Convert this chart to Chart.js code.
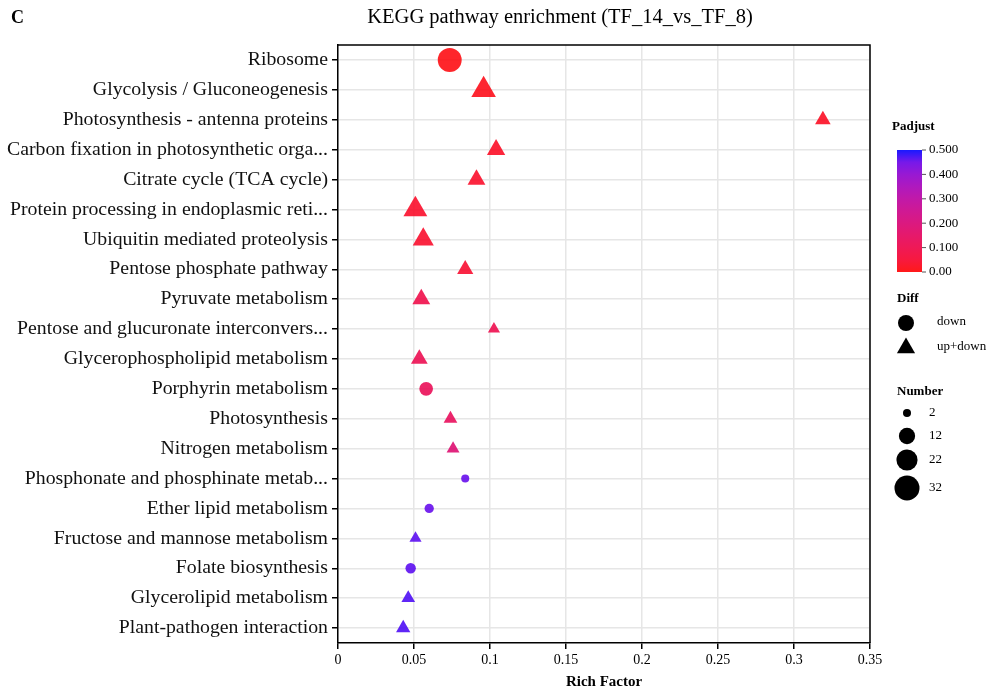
<!DOCTYPE html>
<html><head><meta charset="utf-8">
<script src="https://cdn.jsdelivr.net/npm/chart.js@4.4.0/dist/chart.umd.min.js"></script>
<style>html,body{margin:0;padding:0;background:#fff}canvas{display:block}</style>
</head><body>
<canvas id="c" width="997" height="693"></canvas>
<script>
const pathways = [
  'Ribosome',
  'Glycolysis / Gluconeogenesis',
  'Photosynthesis - antenna proteins',
  'Carbon fixation in photosynthetic orga...',
  'Citrate cycle (TCA cycle)',
  'Protein processing in endoplasmic reti...',
  'Ubiquitin mediated proteolysis',
  'Pentose phosphate pathway',
  'Pyruvate metabolism',
  'Pentose and glucuronate interconvers...',
  'Glycerophospholipid metabolism',
  'Porphyrin metabolism',
  'Photosynthesis',
  'Nitrogen metabolism',
  'Phosphonate and phosphinate metab...',
  'Ether lipid metabolism',
  'Fructose and mannose metabolism',
  'Folate biosynthesis',
  'Glycerolipid metabolism',
  'Plant-pathogen interaction'
];
const richFactor = [0.0735, 0.0958, 0.319, 0.104, 0.0911, 0.0509, 0.0561, 0.0837, 0.0548, 0.1026,
                    0.0535, 0.058, 0.074, 0.0757, 0.0837, 0.060, 0.051, 0.0478, 0.0462, 0.0429];
const geneNumber = [29, 31, 11, 16, 15, 29, 22, 12, 15, 6,
                    13, 8, 8, 7, 2, 3, 6, 4, 8, 9];
const padjust = [0.005, 0.01, 0.02, 0.025, 0.03, 0.03, 0.035, 0.04, 0.09, 0.1,
                 0.11, 0.12, 0.13, 0.18, 0.46, 0.46, 0.47, 0.47, 0.48, 0.48];
const diff = ['down', 'up+down', 'up+down', 'up+down', 'up+down', 'up+down', 'up+down', 'up+down', 'up+down', 'up+down',
              'up+down', 'down', 'up+down', 'up+down', 'down', 'down', 'up+down', 'down', 'up+down', 'up+down'];
const xTicks = [0, 0.05, 0.1, 0.15, 0.2, 0.25, 0.3, 0.35];
const padjustTicks = [0.5, 0.4, 0.3, 0.2, 0.1, 0.0];
const padjustTickLabels = ['0.500', '0.400', '0.300', '0.200', '0.100', '0.00'];
const diffLegend = ['down', 'up+down'];
const numberLegend = [2, 12, 22, 32];

const PMAX = 0.5;
const SERIF = "'Liberation Serif', 'Times New Roman', serif";

// Lab interpolation red -> blue (like ggplot gradient)
function s2l(c){c/=255;return c<=0.04045?c/12.92:Math.pow((c+0.055)/1.055,2.4);}
function l2s(c){const v=c<=0.0031308?12.92*c:1.055*Math.pow(c,1/2.4)-0.055;return Math.max(0,Math.min(255,Math.round(v*255)));}
function toLab(rgb){const r=s2l(rgb[0]),g=s2l(rgb[1]),b=s2l(rgb[2]);
  let X=(0.4124*r+0.3576*g+0.1805*b)/0.95047,Y=(0.2126*r+0.7152*g+0.0722*b),Z=(0.0193*r+0.1192*g+0.9505*b)/1.08883;
  const f=t=>t>0.008856?Math.cbrt(t):7.787*t+16/116;
  const fx=f(X),fy=f(Y),fz=f(Z);return [116*fy-16,500*(fx-fy),200*(fy-fz)];}
function fromLab(l){const fy=(l[0]+16)/116,fx=fy+l[1]/500,fz=fy-l[2]/200;
  const fi=t=>t*t*t>0.008856?t*t*t:(t-16/116)/7.787;
  const X=fi(fx)*0.95047,Y=fi(fy),Z=fi(fz)*1.08883;
  const r=3.2406*X-1.5372*Y-0.4986*Z,g=-0.9689*X+1.8758*Y+0.0415*Z,b=0.0557*X-0.2040*Y+1.0570*Z;
  return [l2s(r),l2s(g),l2s(b)];}
const LAB_LO=toLab([255,0,0]), LAB_HI=toLab([0,0,255]);
function padjColor(p, a){const t=Math.max(0,Math.min(1,p/PMAX));
  const c=fromLab([0,1,2].map(i=>LAB_LO[i]+(LAB_HI[i]-LAB_LO[i])*t));
  return `rgba(${c[0]},${c[1]},${c[2]},${a})`;}
function sizeRadius(n){return 2*Math.sqrt(n)+1.2;}

const extras = {
  id: 'extras',
  afterDraw(chart){
    const ctx = chart.ctx, ca = chart.chartArea;
    ctx.save();
    // top/right frame
    ctx.strokeStyle = '#000'; ctx.lineWidth = 1.5;
    ctx.beginPath();
    ctx.moveTo(ca.left, ca.top); ctx.lineTo(ca.right, ca.top); ctx.lineTo(ca.right, ca.bottom);
    ctx.stroke();
    // panel letter & title
    ctx.fillStyle = '#000';
    ctx.textBaseline = 'middle';
    ctx.textAlign = 'left';
    ctx.font = `bold 18px ${SERIF}`;
    ctx.fillText('C', 11, 18);
    ctx.textAlign = 'center';
    ctx.font = `20.5px ${SERIF}`;
    ctx.fillText('KEGG pathway enrichment (TF_14_vs_TF_8)', 560, 18);
    // x axis title
    ctx.font = `bold 15px ${SERIF}`;
    ctx.fillText('Rich Factor', (ca.left + ca.right) / 2, 682);

    // Padjust colour bar
    const bx = 897, bw = 25, by0 = 150, by1 = 272;
    ctx.textAlign = 'left';
    ctx.font = `bold 13px ${SERIF}`;
    ctx.fillText('Padjust', 892, 127);
    const grad = ctx.createLinearGradient(0, by1, 0, by0);
    for (let i = 0; i <= 10; i++) grad.addColorStop(i / 10, padjColor(PMAX * i / 10, 0.9));
    ctx.fillStyle = grad;
    ctx.fillRect(bx, by0, bw, by1 - by0);
    ctx.fillStyle = '#000'; ctx.strokeStyle = '#555'; ctx.lineWidth = 1;
    ctx.font = `13px ${SERIF}`;
    padjustTicks.forEach((v, i) => {
      const y = by1 - (v / PMAX) * (by1 - by0);
      ctx.beginPath(); ctx.moveTo(bx + bw, y); ctx.lineTo(bx + bw + 4, y); ctx.stroke();
      ctx.fillText(padjustTickLabels[i], bx + bw + 7, y);
    });

    // Diff legend
    ctx.font = `bold 13px ${SERIF}`;
    ctx.fillText('Diff', 897, 299);
    ctx.font = `13px ${SERIF}`;
    diffLegend.forEach((lab, i) => {
      const y = 323 + i * 25, x = 906;
      ctx.fillStyle = '#000';
      ctx.beginPath();
      if (lab === 'down') { ctx.arc(x, y, 8, 0, Math.PI * 2); }
      else { const r = 10.5; ctx.moveTo(x, y - r); ctx.lineTo(x + r * 0.866, y + r * 0.5); ctx.lineTo(x - r * 0.866, y + r * 0.5); ctx.closePath(); }
      ctx.fill();
      ctx.fillText(lab, 937, y - 1);
    });

    // Number legend
    ctx.font = `bold 13px ${SERIF}`;
    ctx.fillText('Number', 897, 392);
    ctx.font = `13px ${SERIF}`;
    const ys = [413, 436, 460, 488];
    numberLegend.forEach((n, i) => {
      ctx.beginPath(); ctx.arc(907, ys[i], sizeRadius(n), 0, Math.PI * 2); ctx.fill();
      ctx.fillText(String(n), 929, ys[i]);
    });
    ctx.restore();
  }
};

new Chart(document.getElementById('c'), {
  type: 'scatter',
  data: {
    datasets: [{
      data: pathways.map((p, i) => ({ x: richFactor[i], y: p })),
      pointStyle: c => diff[c.dataIndex] === 'down' ? 'circle' : 'triangle',
      pointRadius: c => diff[c.dataIndex] === 'down' ? sizeRadius(geneNumber[c.dataIndex]) : sizeRadius(geneNumber[c.dataIndex]) * 1.15,
      pointHoverRadius: c => diff[c.dataIndex] === 'down' ? sizeRadius(geneNumber[c.dataIndex]) : sizeRadius(geneNumber[c.dataIndex]) * 1.15,
      pointBackgroundColor: c => padjColor(padjust[c.dataIndex], 0.85),
      pointBorderWidth: 0,
      clip: false
    }]
  },
  options: {
    responsive: false, animation: false, devicePixelRatio: 1,
    layout: { padding: { left: 0, right: 127, top: 45, bottom: 0 } },
    plugins: { legend: { display: false }, tooltip: { enabled: false }, title: { display: false } },
    scales: {
      x: {
        type: 'linear', min: 0, max: 0.35, position: 'bottom',
        afterBuildTicks: s => { s.ticks = xTicks.map(v => ({ value: v })); },
        afterFit: s => { s.height = 50; },
        ticks: { font: { family: SERIF, size: 14 }, color: '#000', padding: 3, maxRotation: 0,
                 callback: v => String(+Number(v).toFixed(2)) },
        grid: { color: '#e6e6e6', lineWidth: 1.5, tickColor: '#000', tickLength: 6, tickWidth: 1.5 },
        border: { color: '#000', width: 1.5 }
      },
      y: {
        type: 'category', labels: pathways, offset: true,
        afterFit: s => { s.width = 338; },
        ticks: { font: { family: SERIF, size: 19.8 }, color: '#111', padding: 4, autoSkip: false },
        grid: { color: '#e6e6e6', lineWidth: 1.5, offset: false, tickColor: '#000', tickLength: 6, tickWidth: 1.5 },
        border: { color: '#000', width: 1.5 }
      }
    }
  },
  plugins: [extras]
});
</script>
</body></html>
